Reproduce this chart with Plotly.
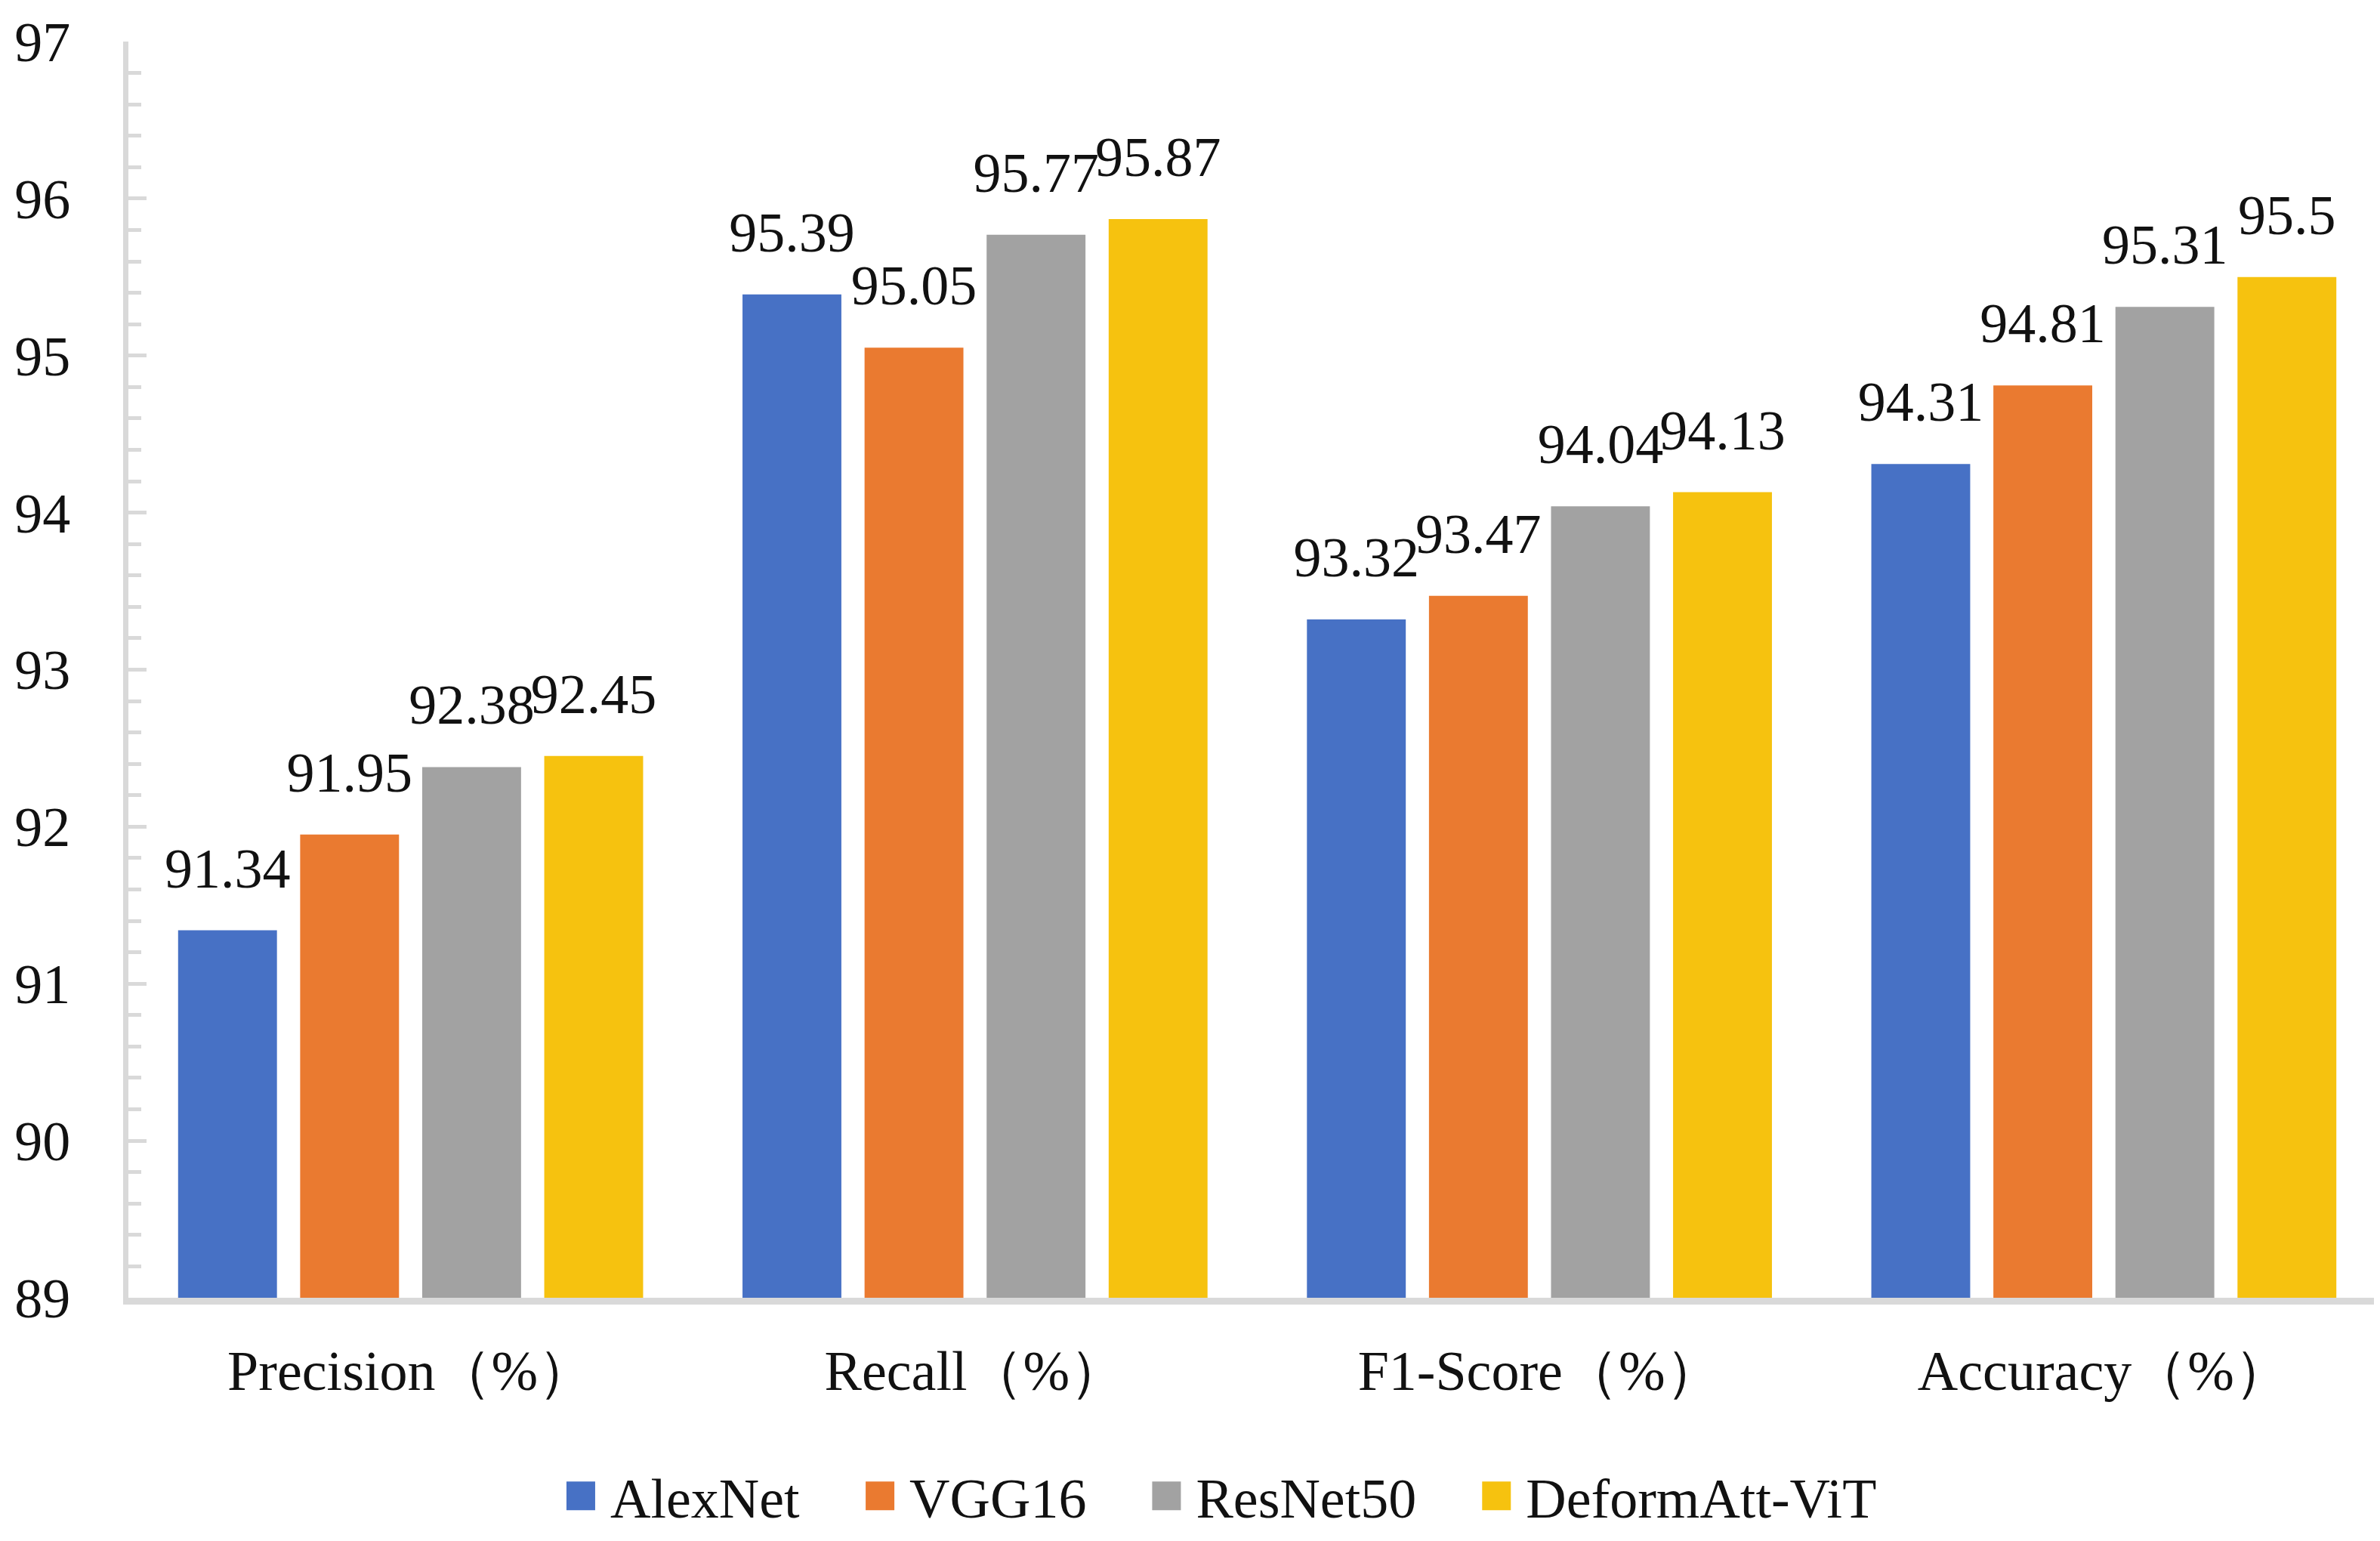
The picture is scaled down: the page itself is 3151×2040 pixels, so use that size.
import plotly.graph_objects as go

# metrics on the x axis and the four models
categories = ['Precision（%）', 'Recall（%）', 'F1-Score（%）', 'Accuracy（%）']
models = ['AlexNet', 'VGG16', 'ResNet50', 'DeformAtt-ViT']

alexnet = [91.34, 95.39, 93.32, 94.31]
vgg16 = [91.95, 95.05, 93.47, 94.81]
resnet50 = [92.38, 95.77, 94.04, 95.31]
deformatt_vit = [92.45, 95.87, 94.13, 95.5]

y_ticks = [89, 90, 91, 92, 93, 94, 95, 96, 97]

colors = ['#4771c5', '#ea7a30', '#a2a2a2', '#f6c20f']
font_family = '"Liberation Serif", "Times New Roman", serif'

fig = go.Figure()

series = [alexnet, vgg16, resnet50, deformatt_vit]

for name, vals, col in zip(models, series, colors):
    fig.add_trace(go.Bar(
        x=categories,
        y=vals,
        name=name,
        marker=dict(color=col, line=dict(width=0)),
    ))

# value labels: text-only scatter, grouped like the bars so they sit on top
# (an invisible marker lifts the label a bit above the bar)
for name, vals in zip(models, series):
    fig.add_trace(go.Scatter(
        x=categories,
        y=vals,
        mode='markers+text',
        orientation='v',
        marker=dict(size=60, opacity=0),
        text=[f'{v:g}' for v in vals],
        textposition='top center',
        textfont=dict(family=font_family, size=74, color='#111111'),
        cliponaxis=False,
        showlegend=False,
        hoverinfo='skip',
    ))

fig.update_layout(
    width=3151,
    height=2040,
    barmode='group',
    bargap=0.135,
    bargroupgap=0.19,
    scattermode='group',
    scattergap=0.135,
    plot_bgcolor='white',
    paper_bgcolor='white',
    font=dict(family=font_family, size=74, color='#111111'),
    margin=dict(l=162, r=0, t=47, b=330),
    legend=dict(
        orientation='h',
        x=0.1666,
        xanchor='left',
        y=-0.158,
        yanchor='middle',
        font=dict(family=font_family, size=74),
        itemwidth=130,
    ),
)

fig.update_xaxes(
    showline=True,
    linecolor='#d9d9d9',
    linewidth=9,
    ticks='',
    showgrid=False,
    ticklabelstandoff=24,
)

fig.update_yaxes(
    range=[89, 97],
    tickvals=y_ticks,
    showline=True,
    linecolor='#d9d9d9',
    linewidth=7,
    showgrid=False,
    zeroline=False,
    ticks='inside',
    ticklen=24,
    tickwidth=5,
    tickcolor='#d9d9d9',
    minor=dict(dtick=0.2, ticks='inside', ticklen=17, tickwidth=5, tickcolor='#d9d9d9'),
    ticklabelstandoff=55,
)

# bigger legend swatches placed just before the names, as in the reference
swatch_js = """
var gd = document.getElementById('{plot_id}');
function bigSwatches() {
    gd.querySelectorAll('g.legendpoints path').forEach(function (p) {
        p.setAttribute('d', 'M19,19H-19V-19H19Z');
        p.setAttribute('transform', 'translate(101,0)');
    });
}
bigSwatches();
gd.on('plotly_afterplot', bigSwatches);
setTimeout(bigSwatches, 300);
setTimeout(bigSwatches, 1000);
"""

fig.write_html("out.html", post_script=swatch_js)
